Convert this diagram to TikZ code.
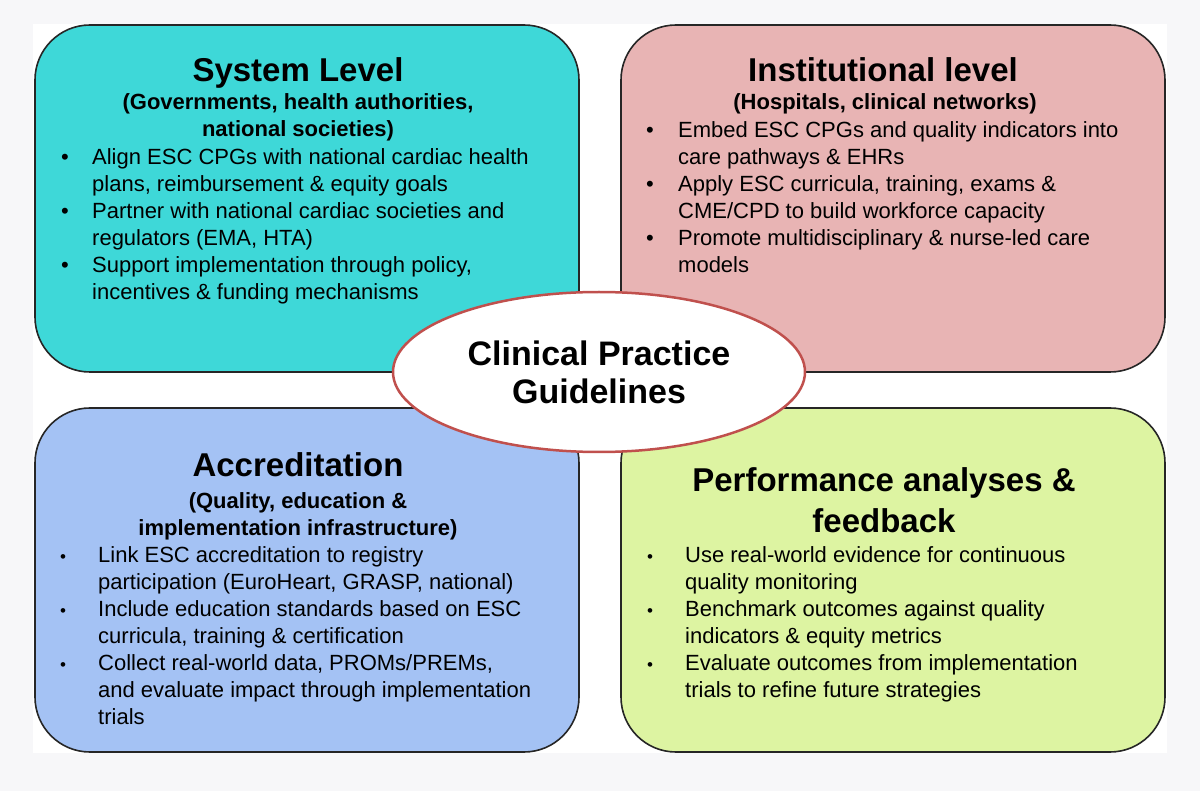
\documentclass[tikz,border=0pt]{standalone}
\usepackage{fontspec}
\setmainfont{Liberation Sans}
\usetikzlibrary{shapes.geometric}

\definecolor{syscyan}{HTML}{3ED8D8}
\definecolor{instpink}{HTML}{E8B4B4}
\definecolor{accblue}{HTML}{A4C2F4}
\definecolor{perfgreen}{HTML}{DDF4A2}
\definecolor{cpgred}{HTML}{C0504D}
\definecolor{pagegray}{HTML}{F7F7F9}

\newcommand{\stackc}[1]{\begin{tabular}[t]{@{}c@{}}#1\end{tabular}}
\newcommand{\smallbullet}{{\fontsize{17}{17}\selectfont\textbullet}}

\tikzset{
  quad/.style={draw=black!85, line width=1.6pt, rounded corners=55pt,
    minimum width=544pt, inner sep=0pt},
  head/.style={anchor=base, inner sep=0pt, font=\fontsize{33}{40}\selectfont\bfseries},
  subhead/.style={anchor=base, inner sep=0pt, font=\fontsize{22}{27}\selectfont\bfseries},
  items/.style={anchor=base west, inner sep=0pt, font=\fontsize{22}{27}\selectfont},
  cpg/.style={ellipse, draw=cpgred, line width=2.5pt, fill=white,
    minimum width=412pt, minimum height=160pt, inner sep=0pt, align=center,
    font=\fontsize{34}{38}\selectfont\bfseries}
}

\begin{document}
\begin{tikzpicture}[x=1pt, y=-1pt]
  % page
  \fill[pagegray] (0,0) rectangle (1200,791);
  \fill[white] (33,24) rectangle (1167,753);

  % four quadrants
  \node[quad, fill=syscyan, minimum height=347pt] (sys) at (307,198.5) {};
  \node[quad, fill=instpink, minimum height=347pt] (inst) at (893,198.5) {};
  \node[quad, fill=accblue, minimum height=344pt] (acc) at (307,580) {};
  \node[quad, fill=perfgreen, minimum height=344pt] (perf) at (893,580) {};

  % system level
  \node[head] (systitle) at (298,82) {System Level};
  \node[subhead] (syssub) at (298,110) {\stackc{(Governments, health authorities,\\ national societies)}};
  \node[items] (sysitems) at (61,165) {%
    \begin{tabular}[t]{@{}p{31pt}@{}l@{}}
      \textbullet & Align ESC CPGs with national cardiac health\\
                  & plans, reimbursement \& equity goals\\
      \textbullet & Partner with national cardiac societies and\\
                  & regulators (EMA, HTA)\\
      \textbullet & Support implementation through policy,\\
                  & incentives \& funding mechanisms
    \end{tabular}};

  % institutional level
  \node[head] (insttitle) at (883,82) {Institutional level};
  \node[subhead] (instsub) at (885,110) {(Hospitals, clinical networks)};
  \node[items] (institems) at (646,138) {%
    \begin{tabular}[t]{@{}p{32pt}@{}l@{}}
      \textbullet & Embed ESC CPGs and quality indicators into\\
                  & care pathways \& EHRs\\
      \textbullet & Apply ESC curricula, training, exams \&\\
                  & CME/CPD to build workforce capacity\\
      \textbullet & Promote multidisciplinary \& nurse-led care\\
                  & models
    \end{tabular}};

  % accreditation
  \node[head] (acctitle) at (298,477) {Accreditation};
  \node[subhead] (accsub) at (298,508) {\stackc{(Quality, education \&\\ implementation infrastructure)}};
  \node[items] (accitems) at (60,562) {%
    \begin{tabular}[t]{@{}p{38pt}@{}l@{}}
      \smallbullet & Link ESC accreditation to registry\\
                   & participation (EuroHeart, GRASP, national)\\
      \smallbullet & Include education standards based on ESC\\
                   & curricula, training \& certification\\
      \smallbullet & Collect real-world data, PROMs/PREMs,\\
                   & and evaluate impact through implementation\\
                   & trials
    \end{tabular}};

  % performance analyses
  \node[head] (perftitle) at (884,492) {\stackc{Performance analyses \&\\ feedback}};
  \node[items] (perfitems) at (647,562) {%
    \begin{tabular}[t]{@{}p{38pt}@{}l@{}}
      \smallbullet & Use real-world evidence for continuous\\
                   & quality monitoring\\
      \smallbullet & Benchmark outcomes against quality\\
                   & indicators \& equity metrics\\
      \smallbullet & Evaluate outcomes from implementation\\
                   & trials to refine future strategies
    \end{tabular}};

  % centre
  \node[cpg] (cpgs) at (599,372) {Clinical Practice\\ Guidelines};
\end{tikzpicture}
\end{document}
